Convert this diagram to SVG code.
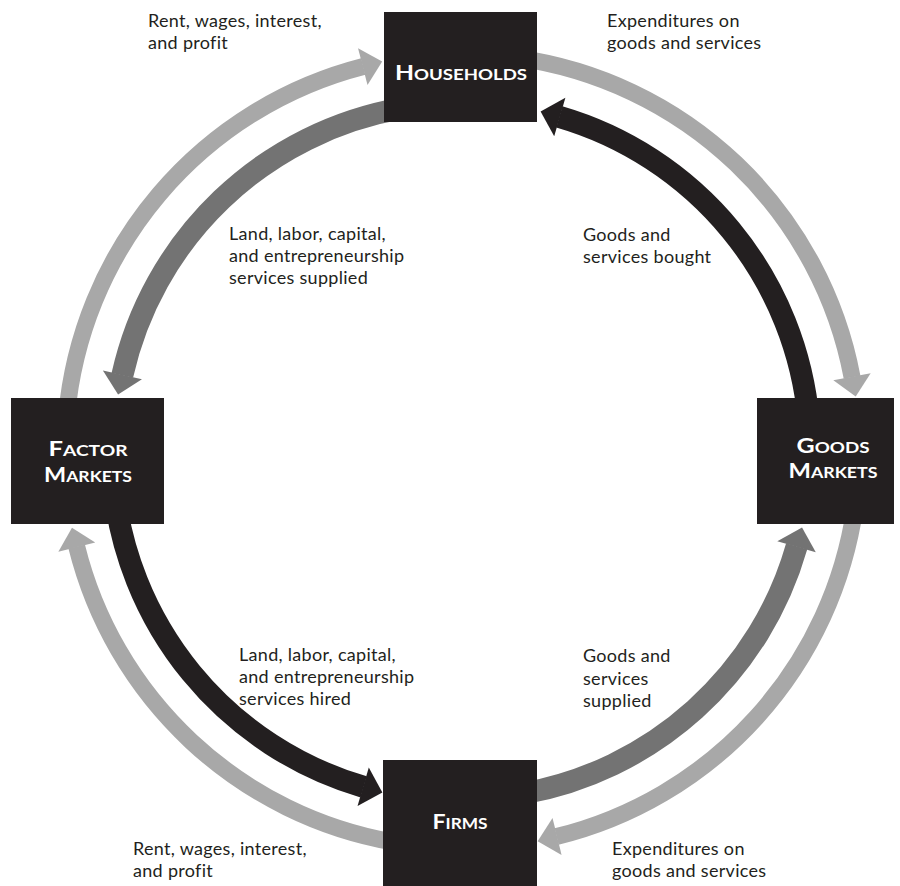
<svg xmlns="http://www.w3.org/2000/svg" width="900" height="886" viewBox="0 0 900 886">
<style>
.box{fill:#231f20}
.t{font-family:Lato,"Open Sans","Liberation Sans",sans-serif;font-weight:bold;fill:#ffffff;text-anchor:middle}
.t .c{font-size:20px}
.t .s{font-size:15px}
.lbl{font-family:Lato,"Open Sans","Liberation Sans",sans-serif;font-size:18px;letter-spacing:0.3px;fill:#231f20}
.o{fill:none;stroke:#a8a8a8;stroke-width:17}
.dg{fill:none;stroke:#737373;stroke-width:22}
.bk{fill:none;stroke:#231f20;stroke-width:22}
</style>
<defs>
<marker id="mL" markerUnits="userSpaceOnUse" markerWidth="22" markerHeight="40" refX="0.5" refY="20" orient="auto" overflow="visible"><path d="M0,1 L20,20 L0,39 Z" fill="#a8a8a8"/></marker>
<marker id="mD" markerUnits="userSpaceOnUse" markerWidth="22" markerHeight="42" refX="0.5" refY="21" orient="auto" overflow="visible"><path d="M0,1 L20,21 L0,41 Z" fill="#737373"/></marker>
<marker id="mB" markerUnits="userSpaceOnUse" markerWidth="22" markerHeight="42" refX="0.5" refY="21" orient="auto" overflow="visible"><path d="M0,1 L20,21 L0,41 Z" fill="#231f20"/></marker>
</defs>
<g id="connectors">
<path class="o" d="M66.51,416.40 A397,397 0 0 1 363.27,66.47" marker-end="url(#mL)"/>
<path class="o" d="M517.25,57.86 A397,397 0 0 1 852.08,377.23" marker-end="url(#mL)"/>
<path class="o" d="M855.14,506.25 A397,397 0 0 1 556.57,836.57" marker-end="url(#mL)"/>
<path class="o" d="M393.06,841.97 A397,397 0 0 1 76.67,546.57" marker-end="url(#mL)"/>
<path class="dg" d="M401.57,108.29 A348,348 0 0 0 122.31,375.38" marker-end="url(#mD)"/>
<path class="bk" d="M808.67,420.67 A348,348 0 0 0 559.32,116.89" marker-end="url(#mB)"/>
<path class="bk" d="M113.33,481.50 A350,350 0 0 0 363.65,786.90" marker-end="url(#mB)"/>
<path class="dg" d="M522.43,793.71 A348,348 0 0 0 796.69,546.34" marker-end="url(#mD)"/>
</g>
<g id="households">
<rect class="box" x="384" y="12" width="153" height="110"/>
<text class="t" x="461" y="80" textLength="132" lengthAdjust="spacingAndGlyphs"><tspan class="c">H</tspan><tspan class="s">OUSEHOLDS</tspan></text>
</g>
<g id="factor-markets">
<rect class="box" x="11" y="398" width="153" height="126"/>
<text class="t" x="88" y="456" textLength="79" lengthAdjust="spacingAndGlyphs"><tspan class="c">F</tspan><tspan class="s">ACTOR</tspan></text>
<text class="t" x="88" y="482" textLength="88" lengthAdjust="spacingAndGlyphs"><tspan class="c">M</tspan><tspan class="s">ARKETS</tspan></text>
</g>
<g id="goods-markets">
<rect class="box" x="757" y="398" width="137" height="126"/>
<text class="t" x="833" y="453" textLength="73" lengthAdjust="spacingAndGlyphs"><tspan class="c">G</tspan><tspan class="s">OODS</tspan></text>
<text class="t" x="833" y="478" textLength="89" lengthAdjust="spacingAndGlyphs"><tspan class="c">M</tspan><tspan class="s">ARKETS</tspan></text>
</g>
<g id="firms">
<rect class="box" x="383" y="760" width="154" height="126"/>
<text class="t" x="460" y="829" textLength="55" lengthAdjust="spacingAndGlyphs"><tspan class="c">F</tspan><tspan class="s">IRMS</tspan></text>
</g>
<g id="labels">
<text class="lbl" x="148" y="27">Rent, wages, interest,</text>
<text class="lbl" x="148" y="49">and profit</text>
<text class="lbl" x="607" y="27">Expenditures on</text>
<text class="lbl" x="607" y="49">goods and services</text>
<text class="lbl" x="229" y="240">Land, labor, capital,</text>
<text class="lbl" x="229" y="262">and entrepreneurship</text>
<text class="lbl" x="229" y="284">services supplied</text>
<text class="lbl" x="583" y="241">Goods and</text>
<text class="lbl" x="583" y="263">services bought</text>
<text class="lbl" x="239" y="661">Land, labor, capital,</text>
<text class="lbl" x="239" y="683">and entrepreneurship</text>
<text class="lbl" x="239" y="705">services hired</text>
<text class="lbl" x="583" y="662">Goods and</text>
<text class="lbl" x="583" y="685">services</text>
<text class="lbl" x="583" y="707">supplied</text>
<text class="lbl" x="133" y="855">Rent, wages, interest,</text>
<text class="lbl" x="133" y="877">and profit</text>
<text class="lbl" x="612" y="855">Expenditures on</text>
<text class="lbl" x="612" y="877">goods and services</text>
</g>
</svg>
